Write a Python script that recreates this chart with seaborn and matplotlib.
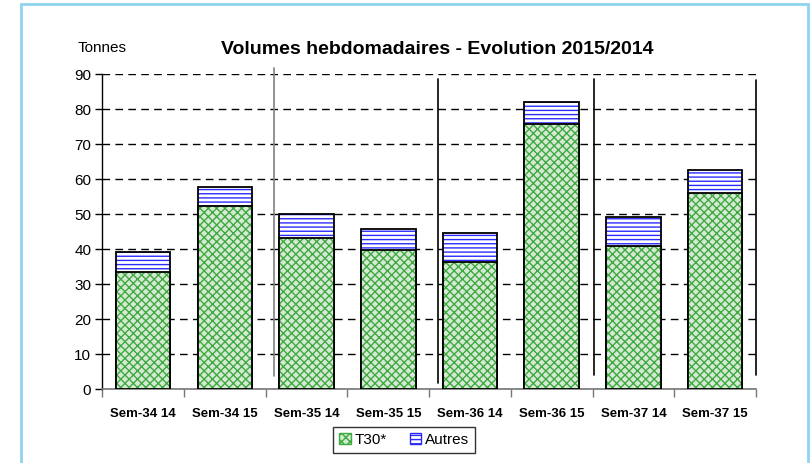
import pandas as pd
import seaborn as sns
import matplotlib.pyplot as plt
from matplotlib.patches import Rectangle, Patch

# ---------------------------------------------------------------------------
# Data (tonnes per week)
# ---------------------------------------------------------------------------
weeks = ["Sem-34 14", "Sem-34 15", "Sem-35 14", "Sem-35 15",
         "Sem-36 14", "Sem-36 15", "Sem-37 14", "Sem-37 15"]
t30 = [33.6, 52.5, 43.3, 39.7, 36.3, 75.7, 41.0, 56.0]
autres = [5.5, 5.2, 6.9, 6.1, 8.4, 6.3, 8.3, 6.8]

df = pd.DataFrame({"week": weeks, "T30*": t30, "Autres": autres})
df["total"] = df["T30*"] + df["Autres"]

GREEN = "#3faa3f"
BLUE = "#2b2bff"
GREEN_FACE = "#d2ecd2"

sns.set_style("white")
plt.rcParams["font.family"] = ["Liberation Sans", "DejaVu Sans"]
plt.rcParams["text.color"] = "black"
plt.rcParams["xtick.color"] = "black"
plt.rcParams["ytick.color"] = "black"
plt.rcParams["hatch.linewidth"] = 1.0

fig = plt.figure(figsize=(8.12, 4.63), dpi=100)
ax = fig.add_axes([102.3 / 812, 1 - 389.3 / 463, 653.7 / 812, 315 / 463])

# stacked bars: total first (Autres on top), then T30* over it
sns.barplot(data=df, x="week", y="total", order=weeks, color="white",
            width=0.667, ax=ax, zorder=3)
n_top = len(ax.patches)
sns.barplot(data=df, x="week", y="T30*", order=weeks, color=GREEN_FACE,
            width=0.667, ax=ax, zorder=4)

for i, p in enumerate(ax.patches):
    if i < n_top:
        p.set_hatch("----")
        p.set_edgecolor(BLUE)
    else:
        p.set_hatch("xxxx")
        p.set_edgecolor(GREEN)
    p.set_linewidth(0)
    ax.add_patch(Rectangle(p.get_xy(), p.get_width(), p.get_height(),
                           fill=False, edgecolor="black", linewidth=1.3,
                           zorder=p.get_zorder() + 0.5))

ax.set_ylim(0, 90)
ax.set_xlim(-0.5, len(weeks) - 0.5)
ax.set_yticks(range(0, 91, 10))
ax.tick_params(axis="y", direction="out", length=5, width=1,
               labelsize=11, left=True, pad=3, labelcolor="black")
ax.set_xticks([i - 0.5 for i in range(len(weeks) + 1)], minor=True)
ax.tick_params(axis="x", which="major", length=0, labelsize=9.5, pad=13.5,
               labelcolor="black")
ax.tick_params(axis="x", which="minor", direction="out", length=6,
               width=1, color="#777777", bottom=True)
for lbl in ax.get_xticklabels():
    lbl.set_fontweight("bold")
ax.set_xlabel("")
ax.set_ylabel("")

ax.set_axisbelow(True)
ax.yaxis.grid(True, color="black", linestyle=(0, (5.5, 3.8)), linewidth=1)
ax.xaxis.grid(False)
for s in ["top", "right"]:
    ax.spines[s].set_visible(False)
ax.spines["left"].set_color("black")
ax.spines["left"].set_linewidth(1)
ax.spines["bottom"].set_color("#777777")
ax.spines["bottom"].set_linewidth(1.2)

# hand-drawn separators between the weeks
separators = [(1.6, 3.8, 91.8, "#808080"), (3.61, 1.8, 88.7, "black"),
              (5.52, 4.1, 88.7, "black"), (7.5, 4.1, 88.4, "black")]
for x, y0, y1, c in separators:
    ax.plot([x, x], [y0, y1], color=c, linewidth=1.2, clip_on=False, zorder=2)

fig.text(437 / 812, 1 - 50 / 463, "Volumes hebdomadaires - Evolution 2015/2014",
         ha="center", va="center", fontsize=14, fontweight="bold")
fig.text(102 / 812, 1 - 48 / 463, "Tonnes", ha="center", va="center",
         fontsize=11)

handles = [Patch(facecolor=GREEN_FACE, edgecolor=GREEN, hatch="xxxx"),
           Patch(facecolor="white", edgecolor=BLUE, hatch="----")]
leg = fig.legend(handles, ["T30*", "Autres"], loc="center",
                 bbox_to_anchor=(404 / 812, 1 - 440 / 463), ncol=2,
                 fontsize=11, frameon=True, fancybox=False,
                 edgecolor="black", handlelength=0.75, handleheight=0.75,
                 handletextpad=0.25, columnspacing=1.5, borderpad=0.4)
leg.get_frame().set_linewidth(1)
for h in leg.legend_handles:
    h.set_linewidth(1)

# light blue frame around the chart area
fig.patches.append(Rectangle((21 / 812, -0.05), 787 / 812, 1.05 - 4 / 463,
                             transform=fig.transFigure, fill=False,
                             edgecolor="#8fd3f0", linewidth=2))

fig.savefig("out.png", dpi=100)
